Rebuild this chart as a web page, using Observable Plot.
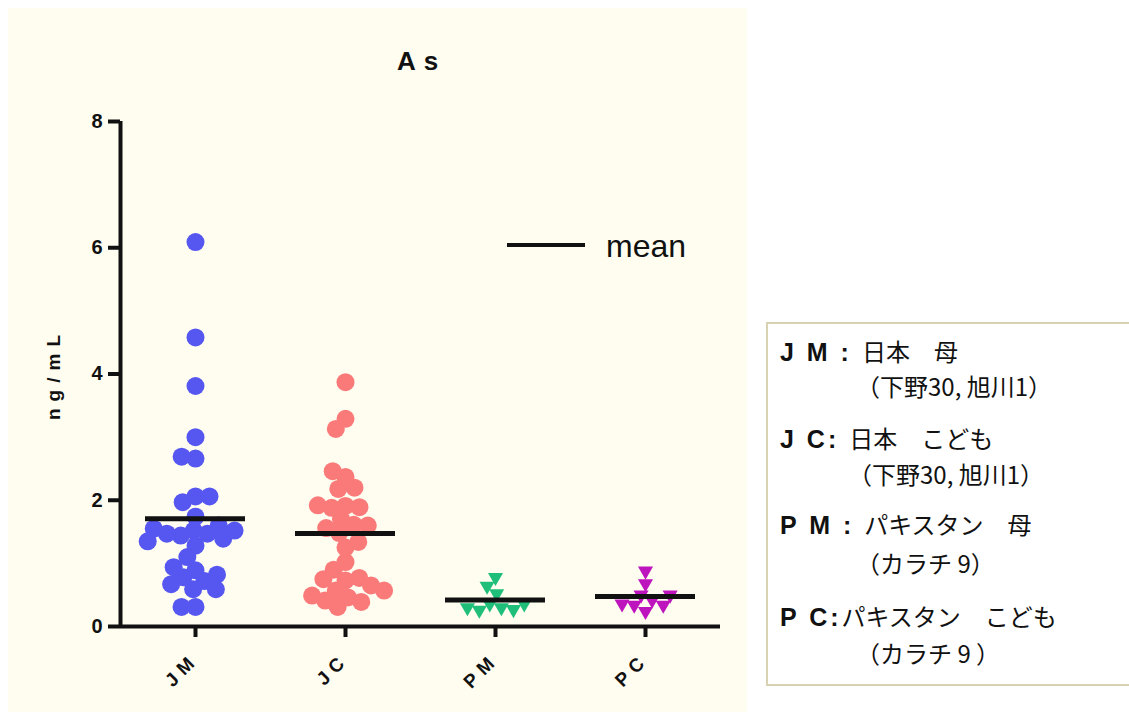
<!DOCTYPE html>
<html>
<head>
<meta charset="utf-8">
<script src="https://cdn.jsdelivr.net/npm/d3@7"></script>
<script src="https://cdn.jsdelivr.net/npm/@observablehq/plot@0.6"></script>
<style>
  html, body { margin: 0; padding: 0; background: #ffffff; overflow: hidden; width: 1129px; height: 717px; }
  #panel { position: absolute; left: 8px; top: 8px; width: 739px; height: 704px; background: #FEFDF0; }
  #title { position: absolute; left: 397px; top: 46px; font: bold 26px "Liberation Sans", Arial, sans-serif; letter-spacing: 8px; color: #111; }
  #meanKey { position: absolute; left: 507px; top: 226px; height: 40px; font: 32px "Liberation Sans", Arial, sans-serif; color: #111; }
  #meanKey .ln { position: absolute; left: 0; top: 17px; width: 78px; height: 4px; background: #111; }
  #meanKey .tx { position: absolute; left: 99px; top: 0; line-height: 40px; }
  #chart { position: absolute; left: 0; top: 0; }
  #box { position: absolute; left: 766px; top: 322px; width: 380px; height: 364px; border: 2px solid #D8D1B2; background: #fff; box-sizing: border-box; }
  .ln2 { position: absolute; white-space: pre; font-family: "Noto Sans CJK JP", sans-serif; font-size: 24px; line-height: 24px; color: #111; }
  .ln2 b { font-family: "Liberation Sans", Arial, sans-serif; font-weight: bold; letter-spacing: 3px; font-size: 25px; }
</style>
</head>
<body>
<div id="panel">
  <div id="chart"></div>
</div>
<div id="title">As</div>
<div id="meanKey"><div class="ln"></div><div class="tx">mean</div></div>
<div id="box"></div>
<script>
const categories = ["JM", "JC", "PM", "PC"];
const jm = [6.09, 4.58, 3.81, 3.00, 2.66, 2.69, 2.06, 1.97, 2.06, 1.74,
            1.52, 1.47, 1.44, 1.60, 1.28, 1.39, 1.47, 1.52, 1.55, 1.35,
            1.10, 0.89, 0.78, 0.72, 0.82, 0.94, 0.67, 0.59, 0.59, 0.31, 0.31];
const jc = [3.87, 3.29, 3.13, 2.37, 2.46, 2.18, 2.20, 1.91, 1.88, 1.89, 1.92, 1.70, 1.61, 1.48, 1.56, 1.60,
            1.25, 1.34, 1.02, 0.90, 0.73, 0.77, 0.75, 0.65,
            0.57, 0.46, 0.39, 0.31, 0.41, 0.49, 0.57];
const pm = [0.78, 0.64, 0.52, 0.36, 0.30, 0.26, 0.27, 0.30, 0.36];
const pc = [0.88, 0.68, 0.50, 0.42, 0.34, 0.24, 0.34, 0.36, 0.50];
const colors = ["#5656F0", "#FA7A7A", "#1FBF7A", "#BE14BE"];
const yTicks = [0, 2, 4, 6, 8];
const legendLines = [
  ["J M : ", "日本　母"],
  ["", "（下野30, 旭川1）"],
  ["J C: ", "日本　こども"],
  ["", "（下野30, 旭川1）"],
  ["P M : ", "パキスタン　母"],
  ["", "（カラチ 9）"],
  ["P C:", "パキスタン　こども"],
  ["", "（カラチ 9 ）"]
];

const series = [jm, jc, pm, pc];
const rows = categories.flatMap((g, i) => series[i].map(v => ({group: g, value: v})));
const circleRows = rows.filter(d => d.group === "JM" || d.group === "JC");
const triRows = rows.filter(d => d.group === "PM" || d.group === "PC");

const chart = Plot.plot({
  width: 739,
  height: 704,
  marginLeft: 112,
  marginTop: 113,
  marginRight: 27,
  marginBottom: 86,
  style: {background: "transparent", fontFamily: "'Liberation Sans', Arial, sans-serif", color: "#111"},
  fx: {domain: categories, padding: 0, label: null},
  x: {domain: [0, 1], axis: null},
  y: {domain: [0, 8], label: null},
  color: {domain: categories, range: colors},
  marks: [
    Plot.ruleY([0], {strokeWidth: 4, stroke: "#111"}),
    Plot.ruleX([0], {fx: () => "JM", y1: 0, y2: 8, strokeWidth: 4, stroke: "#111"}),
    Plot.axisY(yTicks, {tickSize: 12, tickPadding: 6, strokeWidth: 4, fontSize: 20, fontWeight: "bold",
      tickFormat: d3.format("d"),
      label: "ng/mL", labelArrow: false, labelAnchor: "center", labelOffset: 74}),
    Plot.axisFx({anchor: "bottom", tickSize: 11, tickPadding: 19, tickRotate: -45, fontSize: 19, fontWeight: "bold",
      strokeWidth: 4, label: null}),
    Plot.dot(circleRows, {...Plot.dodgeX("middle", {fx: "group", y: "value", r: 6.5, fill: "group", padding: 0}), r: 9}),
    Plot.dot(triRows, Plot.dodgeX("middle", {fx: "group", y: "value", r: 5.6, symbol: "triangle", rotate: 180, fill: "group", padding: -1})),
    Plot.ruleY(rows, Plot.groupZ({y: "mean"}, {fx: "group", y: "value", strokeWidth: 5, stroke: "#111", insetLeft: 25, insetRight: 25}))
  ]
});
chart.querySelectorAll('g[aria-label="fx-axis tick label"] text').forEach(t => t.setAttribute("letter-spacing", "6"));
chart.querySelectorAll('g[aria-label="y-axis label"] text').forEach(t => { t.setAttribute("letter-spacing", "7"); t.setAttribute("font-size", "19"); });
document.getElementById("chart").appendChild(chart);

const box = document.getElementById("box");
const tops = [15, 50, 102, 138, 188, 227, 280, 317];
const lefts = [12, 88, 12, 80, 12, 88, 12, 88];
legendLines.forEach((l, i) => {
  const div = document.createElement("div");
  div.className = "ln2";
  div.style.top = tops[i] + "px";
  div.style.left = lefts[i] + "px";
  if (l[0]) { const b = document.createElement("b"); b.textContent = l[0]; div.appendChild(b); }
  div.appendChild(document.createTextNode(l[1]));
  box.appendChild(div);
});
</script>
</body>
</html>
